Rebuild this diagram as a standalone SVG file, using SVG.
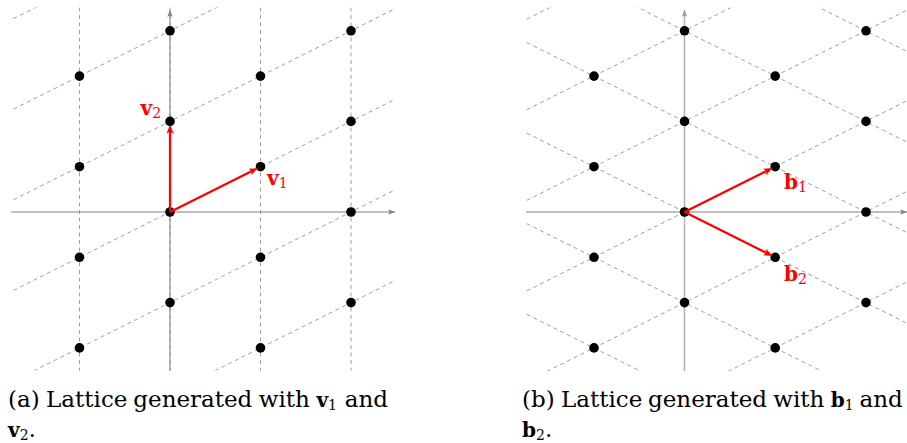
<svg xmlns="http://www.w3.org/2000/svg" width="907" height="443" viewBox="0 0 907 443">
<style>
.grid{fill:none;stroke:#858585;stroke-width:0.8;stroke-dasharray:4 3.5}
.axis{fill:none;stroke:#808080;stroke-width:1}
.axisL{fill:none;stroke:#b4b4b4;stroke-width:1.6}
.vec{fill:none;stroke:#ff0000;stroke-width:2.2}
.dot{fill:#000}
.lab{font-family:"DejaVu Serif",serif;fill:#ff0000}
.labB{font-weight:bold;font-size:20px}
.labS{font-size:14px}
.cap{font-family:"DejaVu Serif",serif;font-size:23px;fill:#000}
.capB{font-weight:bold;font-size:20px}
.capS{font-size:14px}
</style>
<defs>
<clipPath id="clipL"><rect x="13" y="7.5" width="382" height="363"/></clipPath>
<clipPath id="clipR"><rect x="526" y="7.5" width="381" height="363.5"/></clipPath>
<marker id="redhead" viewBox="0 0 10 8" refX="4" refY="4" markerWidth="9" markerHeight="7.2" orient="auto" markerUnits="userSpaceOnUse">
<path d="M0,0 L10,4 L0,8 L2.5,4 z" fill="#ff0000"/>
</marker>
<marker id="axhead" viewBox="0 0 10 8" refX="10" refY="4" markerWidth="7" markerHeight="5.6" orient="auto" markerUnits="userSpaceOnUse">
<path d="M0,0 L10,4 L0,8 L2.5,4 z" fill="#808080"/>
</marker>
<marker id="axheadL" viewBox="0 0 10 8" refX="10" refY="4" markerWidth="7" markerHeight="5.6" orient="auto" markerUnits="userSpaceOnUse">
<path d="M0,0 L10,4 L0,8 L2.5,4 z" fill="#9a9a9a"/>
</marker>
</defs>

<g id="panel-a">
<g id="grid-a" clip-path="url(#clipL)">
<path class="grid" d="M79.5,0 V443 M170,0 V443 M260.5,0 V443 M351,0 V443"/>
<path class="grid" d="M0,478.3 L420,268.05 M0,387.7 L420,177.45 M0,297.1 L420,86.85 M0,206.5 L420,-3.75 M0,115.9 L420,-94.35 M0,25.3 L420,-184.95"/>
</g>
<g id="axes-a">
<line class="axis" x1="11" y1="212" x2="395" y2="212" marker-end="url(#axhead)"/>
<line class="axis" x1="170" y1="371" x2="170" y2="10" marker-end="url(#axhead)"/>
</g>
<g id="a-p1"><circle class="dot" cx="79.5" cy="76.1" r="4.8"/></g>
<g id="a-p2"><circle class="dot" cx="79.5" cy="166.7" r="4.8"/></g>
<g id="a-p3"><circle class="dot" cx="79.5" cy="257.3" r="4.8"/></g>
<g id="a-p4"><circle class="dot" cx="79.5" cy="347.9" r="4.8"/></g>
<g id="a-p5"><circle class="dot" cx="170" cy="30.8" r="4.8"/></g>
<g id="a-p6"><circle class="dot" cx="170" cy="121.4" r="4.8"/></g>
<g id="a-origin"><circle class="dot" cx="170" cy="212" r="4.8"/></g>
<g id="a-p8"><circle class="dot" cx="170" cy="302.6" r="4.8"/></g>
<g id="a-p9"><circle class="dot" cx="260.5" cy="76.1" r="4.8"/></g>
<g id="a-p10"><circle class="dot" cx="260.5" cy="166.7" r="4.8"/></g>
<g id="a-p11"><circle class="dot" cx="260.5" cy="257.3" r="4.8"/></g>
<g id="a-p12"><circle class="dot" cx="260.5" cy="347.9" r="4.8"/></g>
<g id="a-p13"><circle class="dot" cx="351" cy="30.8" r="4.8"/></g>
<g id="a-p14"><circle class="dot" cx="351" cy="121.4" r="4.8"/></g>
<g id="a-p15"><circle class="dot" cx="351" cy="212" r="4.8"/></g>
<g id="a-p16"><circle class="dot" cx="351" cy="302.6" r="4.8"/></g>
</g>

<g id="panel-b">
<g id="grid-b" clip-path="url(#clipR)">
<path class="grid" d="M520,475.45 L907,281.95 M520,384.85 L907,191.35 M520,294.25 L907,100.75 M520,203.65 L907,10.15 M520,113.05 L907,-80.45 M520,22.45 L907,-171.05"/>
<path class="grid" d="M520,310.95 L907,504.45 M520,220.35 L907,413.85 M520,129.75 L907,323.25 M520,39.15 L907,232.65 M520,-51.45 L907,142.05 M520,-142.05 L907,51.45"/>
</g>
<g id="axes-b">
<line class="axis" x1="526" y1="212" x2="907" y2="212" marker-end="url(#axhead)"/>
<line class="axisL" x1="684.5" y1="371" x2="684.5" y2="10" marker-end="url(#axheadL)"/>
</g>
<g id="b-p1"><circle class="dot" cx="594" cy="76.1" r="4.8"/></g>
<g id="b-p2"><circle class="dot" cx="594" cy="166.7" r="4.8"/></g>
<g id="b-p3"><circle class="dot" cx="594" cy="257.3" r="4.8"/></g>
<g id="b-p4"><circle class="dot" cx="594" cy="347.9" r="4.8"/></g>
<g id="b-p5"><circle class="dot" cx="684.5" cy="30.8" r="4.8"/></g>
<g id="b-p6"><circle class="dot" cx="684.5" cy="121.4" r="4.8"/></g>
<g id="b-origin"><circle class="dot" cx="684.5" cy="212" r="4.8"/></g>
<g id="b-p8"><circle class="dot" cx="684.5" cy="302.6" r="4.8"/></g>
<g id="b-p9"><circle class="dot" cx="775.2" cy="76.1" r="4.8"/></g>
<g id="b-p10"><circle class="dot" cx="775.2" cy="166.7" r="4.8"/></g>
<g id="b-p11"><circle class="dot" cx="775.2" cy="257.3" r="4.8"/></g>
<g id="b-p12"><circle class="dot" cx="775.2" cy="347.9" r="4.8"/></g>
<g id="b-p13"><circle class="dot" cx="866" cy="30.8" r="4.8"/></g>
<g id="b-p14"><circle class="dot" cx="866" cy="121.4" r="4.8"/></g>
<g id="b-p15"><circle class="dot" cx="866" cy="212" r="4.8"/></g>
<g id="b-p16"><circle class="dot" cx="866" cy="302.6" r="4.8"/></g>
</g>

<g id="connectors">
<line id="vec-v1" class="vec" x1="170" y1="212" x2="253" y2="170.4" marker-end="url(#redhead)"/>
<line id="vec-v2" class="vec" x1="170" y1="212" x2="170" y2="130.1" marker-end="url(#redhead)"/>
<line id="vec-b1" class="vec" x1="684.5" y1="212" x2="767.7" y2="170.4" marker-end="url(#redhead)"/>
<line id="vec-b2" class="vec" x1="684.5" y1="212" x2="767.7" y2="253.6" marker-end="url(#redhead)"/>
</g>

<g id="labels">
<text class="lab" x="140.5" y="115"><tspan class="labB">v</tspan><tspan class="labS" dy="3">2</tspan></text>
<text class="lab" x="267" y="185"><tspan class="labB">v</tspan><tspan class="labS" dy="3">1</tspan></text>
<text class="lab" x="784" y="189"><tspan class="labB">b</tspan><tspan class="labS" dy="3">1</tspan></text>
<text class="lab" x="784" y="281"><tspan class="labB">b</tspan><tspan class="labS" dy="3">2</tspan></text>
</g>

<g id="caption-a">
<text class="cap" y="407"><tspan x="8">(a)</tspan><tspan x="46.1">Lattice</tspan><tspan x="133.3">generated</tspan><tspan x="258.8">with</tspan><tspan x="316.4" class="capB">v</tspan><tspan class="capS" dy="3">1</tspan><tspan x="344.8" dy="-3">and</tspan></text>
<text class="cap" y="437"><tspan x="8" class="capB">v</tspan><tspan class="capS" dy="3">2</tspan><tspan dy="-3">.</tspan></text>
</g>
<g id="caption-b">
<text class="cap" y="407"><tspan x="522">(b)</tspan><tspan x="561">Lattice</tspan><tspan x="648">generated</tspan><tspan x="773.3">with</tspan><tspan x="830.7" class="capB">b</tspan><tspan class="capS" dy="3">1</tspan><tspan x="859.6" dy="-3">and</tspan></text>
<text class="cap" y="437"><tspan x="522" class="capB">b</tspan><tspan class="capS" dy="3">2</tspan><tspan dy="-3">.</tspan></text>
</g>
</svg>
